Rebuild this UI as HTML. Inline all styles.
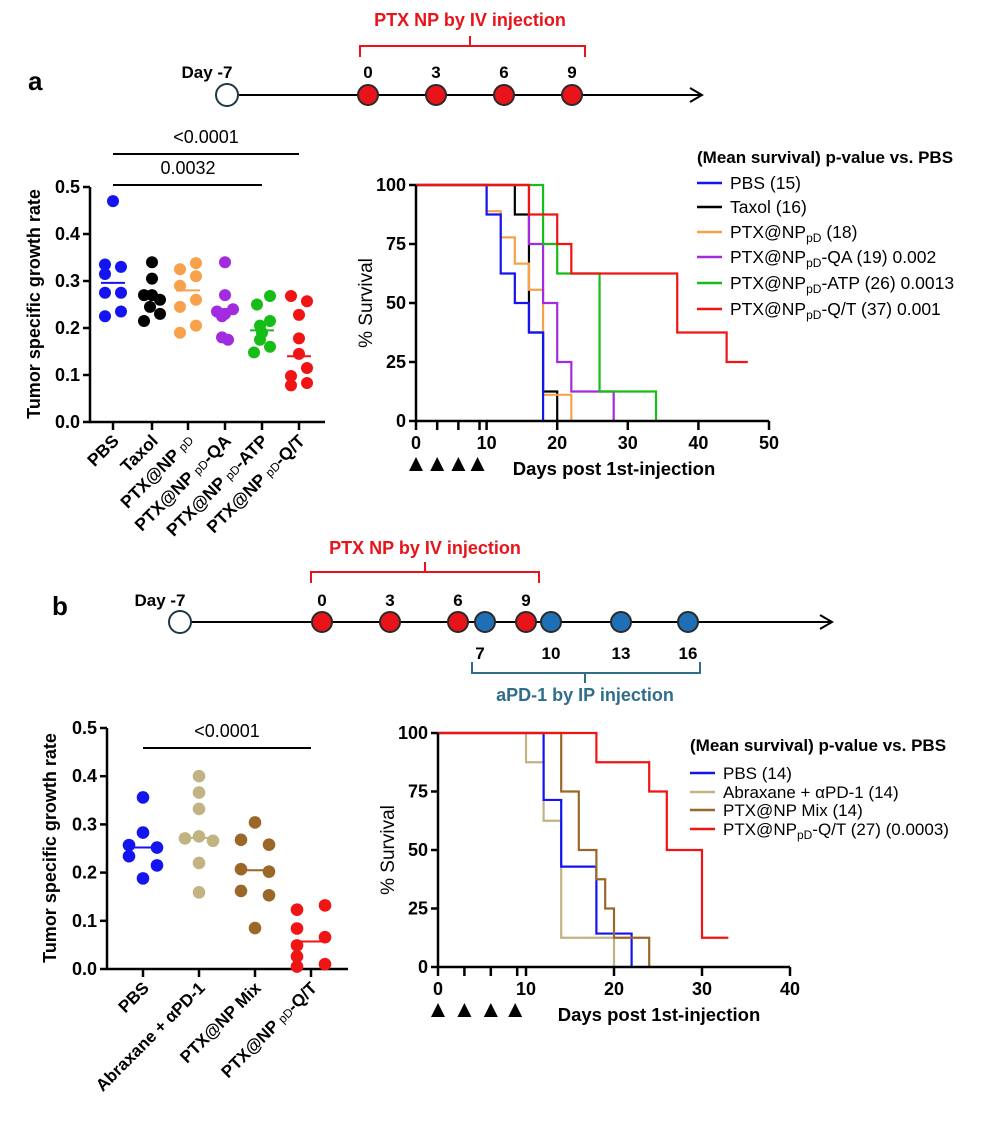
<!DOCTYPE html>
<html><head><meta charset="utf-8">
<style>
html,body{margin:0;padding:0;background:#fff;}
svg{display:block;font-family:"Liberation Sans",Arial,sans-serif;}
</style></head>
<body>
<svg id="s" width="986" height="1125" viewBox="0 0 986 1125" xmlns="http://www.w3.org/2000/svg">
<text x="28" y="90" font-size="26" font-weight="bold">a</text>
<text x="470" y="26" font-size="18" font-weight="bold" fill="#e8141a" text-anchor="middle">PTX NP by IV injection</text>
<path d="M360 57 V46 H585 V57 M470 46 V36" stroke="#e8141a" stroke-width="2" fill="none"/>
<line x1="237" y1="95" x2="700" y2="95" stroke="#000" stroke-width="2"/>
<path d="M690 88 L702 95 L690 102" stroke="#000" stroke-width="2" fill="none"/>
<circle cx="227" cy="95" r="11" fill="#fff" stroke="#1d3a44" stroke-width="2"/>
<g fill="#e8141a" stroke="#2a2a2a" stroke-width="2">
<circle cx="368" cy="95" r="10"/><circle cx="436" cy="95" r="10"/><circle cx="504" cy="95" r="10"/><circle cx="572" cy="95" r="10"/></g>
<g font-size="17" font-weight="bold" text-anchor="middle">
<text x="207" y="78">Day -7</text><text x="368" y="78">0</text><text x="436" y="78">3</text><text x="504" y="78">6</text><text x="572" y="78">9</text></g>

<text x="52" y="615" font-size="26" font-weight="bold">b</text>
<text x="425" y="554" font-size="18" font-weight="bold" fill="#e8141a" text-anchor="middle">PTX NP by IV injection</text>
<path d="M311 583 V572 H539 V583 M425 572 V562" stroke="#e8141a" stroke-width="2" fill="none"/>
<path d="M472 662 V673 H700 V662 M585 673 V683" stroke="#2f6d8c" stroke-width="2" fill="none"/>
<text x="585" y="701" font-size="18" font-weight="bold" fill="#2f6d8c" text-anchor="middle">aPD-1 by IP injection</text>
<line x1="190" y1="622" x2="830" y2="622" stroke="#000" stroke-width="2"/>
<path d="M820 615 L832 622 L820 629" stroke="#000" stroke-width="2" fill="none"/>
<circle cx="180" cy="622" r="11" fill="#fff" stroke="#1d3a44" stroke-width="2"/>
<g fill="#e8141a" stroke="#2a2a2a" stroke-width="2">
<circle cx="322" cy="622" r="10"/><circle cx="390" cy="622" r="10"/><circle cx="458" cy="622" r="10"/><circle cx="526" cy="622" r="10"/></g>
<g fill="#1e6fb5" stroke="#2a2a2a" stroke-width="2">
<circle cx="485" cy="622" r="10"/><circle cx="551" cy="622" r="10"/><circle cx="621" cy="622" r="10"/><circle cx="688" cy="622" r="10"/></g>
<g font-size="17" font-weight="bold" text-anchor="middle">
<text x="160" y="606">Day -7</text><text x="322" y="606">0</text><text x="390" y="606">3</text><text x="458" y="606">6</text><text x="526" y="606">9</text>
<text x="480" y="659">7</text><text x="551" y="659">10</text><text x="621" y="659">13</text><text x="688" y="659">16</text></g>

<g id="dyn"></g>
</svg>
<script>
const NS="http://www.w3.org/2000/svg";const g=document.getElementById('dyn');
function el(t,a,txt){const e=document.createElementNS(NS,t);for(const k in a)e.setAttribute(k,a[k]);if(txt!==undefined)e.textContent=txt;g.appendChild(e);return e;}
function line(x1,y1,x2,y2,c,w){el('line',{x1,y1,x2,y2,stroke:c||'#000','stroke-width':w||2.5});}
function text(x,y,s,o){const a=Object.assign({x,y,'font-size':16,'font-weight':'bold'},o||{});return el('text',a,s);}

(function(){
 const X0=90,Y0=422,Ys=470; const y=v=>Y0-v*Ys;
 line(X0,y(0.5),X0,Y0+1);line(X0-1,Y0,325,Y0);
 for(let i=0;i<=5;i++){const v=i/10;line(X0-7,y(v),X0,y(v));text(X0-10,y(v)+6,v.toFixed(1),{'text-anchor':'end','font-size':18});}
 text(0,0,'Tumor specific growth rate',{'font-size':18,'text-anchor':'middle',transform:'translate(40,304) rotate(-90)'});
 const xs=[113,152,188,225,262,299];
 xs.forEach(x=>line(x,Y0,x,Y0+8));
 const cols=['#1414f0','#000','#f7a24b','#a22be0','#16bd16','#f01414'];
 const data=[
  [[0.47,0],[0.335,-8],[0.33,8],[0.315,-8],[0.275,-8],[0.275,8],[0.225,-8],[0.235,8]],
  [[0.34,0],[0.305,0],[0.27,-8],[0.27,0],[0.26,8],[0.245,-2],[0.23,8],[0.215,-8]],
  [[0.325,-8],[0.338,8],[0.31,8],[0.29,-8],[0.26,8],[0.245,-8],[0.205,8],[0.19,-8]],
  [[0.34,0],[0.27,0],[0.235,-8],[0.23,0],[0.24,8],[0.225,-3],[0.18,-3],[0.175,3]],
  [[0.268,8],[0.25,-5],[0.215,8],[0.205,-2],[0.19,0],[0.175,-2],[0.16,8],[0.148,-8]],
  [[0.268,-8],[0.257,8],[0.228,0],[0.178,0],[0.145,0],[0.115,8],[0.098,-8],[0.083,8],[0.078,-8]]];
 const means=[0.296,0.265,0.28,0.24,0.195,0.14];
 data.forEach((d,i)=>{d.forEach(p=>el('circle',{cx:xs[i]+p[1],cy:y(p[0]),r:6,fill:cols[i]}));line(xs[i]-12,y(means[i]),xs[i]+12,y(means[i]),cols[i],2);});
 line(113,154,299,154,'#000',2);text(206,143,'<0.0001',{'font-weight':'normal','font-size':18,'text-anchor':'middle'});
 line(113,185,262,185,'#000',2);text(188,174,'0.0032',{'font-weight':'normal','font-size':18,'text-anchor':'middle'});
 const labs=['PBS','Taxol','PTX@NP <tspan font-size="12" font-weight="normal" dy="-1">pD</tspan>','PTX@NP <tspan font-size="12" font-weight="normal">pD</tspan>-QA','PTX@NP <tspan font-size="12" font-weight="normal">pD</tspan>-ATP','PTX@NP <tspan font-size="12" font-weight="normal">pD</tspan>-Q/T'];
 labs.forEach((s,i)=>{const e=text(0,0,'',{'text-anchor':'end','font-size':17.5,transform:`translate(${xs[i]+7},${Y0+20}) rotate(-45)`});e.innerHTML=s;});
})();

(function(){
 const X0=107,Y0=969,Ys=482; const y=v=>Y0-v*Ys;
 line(X0,y(0.5),X0,Y0+1);line(X0-1,Y0,348,Y0);
 for(let i=0;i<=5;i++){const v=i/10;line(X0-7,y(v),X0,y(v));text(X0-10,y(v)+6,v.toFixed(1),{'text-anchor':'end','font-size':18});}
 text(0,0,'Tumor specific growth rate',{'font-size':18,'text-anchor':'middle',transform:'translate(56,848) rotate(-90)'});
 const xs=[143,199,255,311];
 xs.forEach(x=>line(x,Y0,x,Y0+8));
 const cols=['#1414f0','#c2b383','#9b6729','#f01414'];
 const data=[
  [[0.356,0],[0.283,0],[0.257,-14],[0.252,14],[0.234,-14],[0.215,14],[0.188,0]],
  [[0.4,0],[0.366,0],[0.332,0],[0.275,0],[0.271,-14],[0.266,14],[0.22,0],[0.159,0]],
  [[0.304,0],[0.268,-14],[0.258,14],[0.207,-14],[0.202,14],[0.162,-14],[0.153,14],[0.085,0]],
  [[0.123,-14],[0.132,14],[0.084,-14],[0.066,14],[0.049,-14],[0.026,-14],[0.01,14],[0.005,-14]]];
 const means=[0.252,0.272,0.205,0.057];
 data.forEach((d,i)=>{d.forEach(p=>el('circle',{cx:xs[i]+p[1],cy:y(p[0]),r:6.3,fill:cols[i]}));line(xs[i]-18,y(means[i]),xs[i]+18,y(means[i]),cols[i],2);});
 line(143,748,311,748,'#000',2);text(227,737,'<0.0001',{'font-weight':'normal','font-size':18,'text-anchor':'middle'});
 const labs=['PBS','Abraxane + αPD-1','PTX@NP Mix','PTX@NP <tspan font-size="12" font-weight="normal">pD</tspan>-Q/T'];
 labs.forEach((s,i)=>{const e=text(0,0,'',{'text-anchor':'end','font-size':17,transform:`translate(${xs[i]+7},${Y0+20}) rotate(-45)`});e.innerHTML=s;});
})();

function surv(o){
 const {x0,y0,y100,dx,xmax,xstep,series}=o;
 const X=d=>x0+d*dx, Y=p=>y0-(p/100)*(y0-y100);
 series.forEach(s=>{let d='M'+X(0)+' '+Y(100);s.pts.forEach(([t,p])=>{d+=' H'+X(t);if(p!==null){d+=' V'+Y(p);}});
  el('path',{d,stroke:s.c,'stroke-width':2.2,fill:'none'});});
 line(x0,y100,x0,y0+1);line(x0-1,y0,X(xmax),y0);
 for(let p=0;p<=100;p+=25){line(x0-7,Y(p),x0,Y(p));text(x0-10,Y(p)+6,String(p),{'text-anchor':'end','font-size':18});}
 for(let t=0;t<=xmax;t+=xstep){line(X(t),y0,X(t),y0+9);text(X(t),y0+28,String(t),{'text-anchor':'middle','font-size':18});}
 [3,6,9].forEach(t=>line(X(t),y0,X(t),y0+9));
 [0,3,6,9].forEach(t=>{const cx=X(t)+(t===9?-2:0);el('path',{d:`M${cx-7} ${y0+50} L${cx} ${y0+36} L${cx+7} ${y0+50}Z`,fill:'#000'});});
 text(0,0,'% Survival',{'font-size':19,'font-weight':'normal','text-anchor':'middle',transform:`translate(${x0-44},${(y0+y100)/2}) rotate(-90)`});
 text(o.titleX,y0+54,'Days post 1st-injection',{'font-size':18.5,'text-anchor':'middle'});
}
surv({x0:416,y0:421,y100:185,dx:7.06,xmax:50,xstep:10,titleX:614,series:[
 {c:'#000',pts:[[14,87.5],[16,37.5],[18,12.5],[20,0]]},
 {c:'#f7a24b',pts:[[10,88.9],[12,77.8],[14,66.7],[16,55.6],[18,11.1],[22,0]]},
 {c:'#1414f0',pts:[[10,87.5],[12,62.5],[14,50],[16,37.5],[18,0]]},
 {c:'#a22be0',pts:[[16,null],[16,75],[18,50],[20,25],[22,12.5],[28,0]]},
 {c:'#16bd16',pts:[[18,75],[20,62.5],[26,12.5],[34,0]]},
 {c:'#f01414',pts:[[16,87.5],[20,75],[22,62.5],[37,37.5],[44,25],[47,null]]}]});
surv({x0:438,y0:967,y100:733,dx:8.8,xmax:40,xstep:10,titleX:659,series:[
 {c:'#c2b383',pts:[[10,87.5],[12,62.5],[14,12.5],[20,0]]},
 {c:'#1414f0',pts:[[12,71.4],[14,42.9],[18,14.3],[22,0]]},
 {c:'#9b6729',pts:[[14,75],[16,50],[18,37.5],[19,25],[20,12.5],[24,0]]},
 {c:'#f01414',pts:[[18,87.5],[24,75],[26,50],[30,12.5],[33,null]]}]});

function legend(x,ty,items,ys,fs){
 text(x,ty,'(Mean survival) p-value vs. PBS',{'font-size':17});
 items.forEach((it,i)=>{line(x,ys[i],x+25,ys[i],it[0],2.5);const e=text(x+33,ys[i]+6,'',{'font-size':fs,'font-weight':'normal'});e.innerHTML=it[1];});
}
const pd='<tspan font-size="12" dy="4">pD</tspan><tspan dy="-4">';
legend(697,163,[['#1414f0','PBS (15)'],['#000','Taxol (16)'],['#f7a24b','PTX@NP'+pd+' (18)</tspan>'],['#a22be0','PTX@NP'+pd+'-QA (19) 0.002</tspan>'],['#16bd16','PTX@NP'+pd+'-ATP (26) 0.0013</tspan>'],['#f01414','PTX@NP'+pd+'-Q/T (37) 0.001</tspan>']],[183,207,232,257,283,309],17.5);
legend(690,751,[['#1414f0','PBS (14)'],['#c2b383','Abraxane + αPD-1 (14)'],['#9b6729','PTX@NP Mix (14)'],['#f01414','PTX@NP'+pd+'-Q/T (27) (0.0003)</tspan>']],[773,792,810,829],17);
</script>
</body></html>
